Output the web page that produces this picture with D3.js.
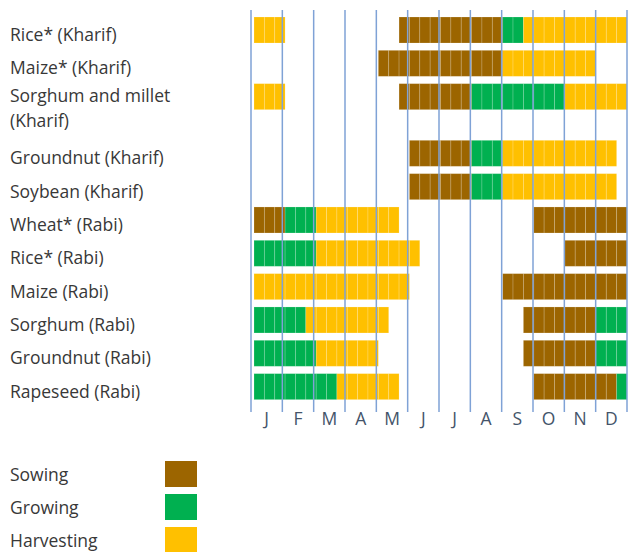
<!DOCTYPE html>
<html>
<head>
<meta charset="utf-8">
<script src="https://cdn.jsdelivr.net/npm/d3@7"></script>
<style>
  body { margin: 0; background: #fff; }
  text { font-family: "Open Sans", "Noto Sans", sans-serif; }
</style>
</head>
<body>
<div id="chart"></div>
<script>
// crop calendar, periods given in dekads (0..36, three per month)
var crops = ["Rice* (Kharif)", "Maize* (Kharif)", "Sorghum and millet|(Kharif)",
  "Groundnut (Kharif)", "Soybean (Kharif)", "Wheat* (Rabi)", "Rice* (Rabi)",
  "Maize (Rabi)", "Sorghum (Rabi)", "Groundnut (Rabi)", "Rapeseed (Rabi)"];

var months = ["J", "F", "M", "A", "M", "J", "J", "A", "S", "O", "N", "D"];

var sowing = [
  [[14, 24]], [[12, 24]], [[14, 21]], [[15, 21]], [[15, 21]],
  [[0, 3], [27, 36]], [[30, 36]], [[24, 36]], [[26, 33]], [[26, 33]], [[27, 35]]
];
var growing = [
  [[24, 26]], [], [[21, 30]], [[21, 24]], [[21, 24]],
  [[3, 6]], [[0, 6]], [], [[0, 5], [33, 36]], [[0, 6], [33, 36]], [[0, 8], [35, 36]]
];
var harvesting = [
  [[0, 3], [26, 36]], [[24, 33]], [[0, 3], [30, 36]], [[24, 35]], [[24, 35]],
  [[6, 14]], [[6, 16]], [[0, 15]], [[5, 13]], [[6, 12]], [[8, 14]]
];

var stages = ["Sowing", "Growing", "Harvesting"];
var stageColors = ["#9C6500", "#00B050", "#FFC000"];
var stageData = [sowing, growing, harvesting];

var width = 636, height = 552;

var svg = d3.select("#chart")
  .append("svg")
    .attr("width", width)
    .attr("height", height);

// scales
var x = d3.scaleLinear().domain([0, 36]).range([254, 627]);
var xMonth = d3.scaleLinear().domain([0, 12]).range([251, 627]);
// row slots; the two-line label row pushes the rest down a bit
var slot = function(i) { return i >= 3 ? i + 0.7 : i; };
var y = d3.scaleLinear().domain([0, 1]).range([17, 50.33]);
var barH = 26;

var color = d3.scaleOrdinal().domain(stages).range(stageColors);

// flatten into one cell per dekad
var cells = [];
crops.forEach(function(c, i) {
  stageData.forEach(function(arr, s) {
    arr[i].forEach(function(p) {
      for (var k = p[0]; k < p[1]; k++) {
        cells.push({row: i, dekad: k, stage: stages[s]});
      }
    });
  });
});

svg.append("g")
  .selectAll("rect")
  .data(cells)
  .enter()
  .append("rect")
    .attr("x", function(d) { return x(d.dekad); })
    .attr("y", function(d) { return y(slot(d.row)); })
    .attr("width", x(1) - x(0))
    .attr("height", barH)
    .style("fill", function(d) { return color(d.stage); })
    .style("stroke", "rgba(255,255,255,0.22)")
    .style("stroke-width", 0.8);

// month grid lines
svg.append("g")
  .selectAll("line")
  .data(d3.range(13))
  .enter()
  .append("line")
    .attr("x1", function(d) { return xMonth(d); })
    .attr("x2", function(d) { return xMonth(d); })
    .attr("y1", 10)
    .attr("y2", 412)
    .style("stroke", "#7fa2d6")
    .style("stroke-width", 1.5);

// month labels
svg.append("g")
  .selectAll("text")
  .data(months)
  .enter()
  .append("text")
    .attr("x", function(d, i) { return xMonth(i + 0.5); })
    .attr("y", 425)
    .attr("text-anchor", "middle")
    .style("font-size", "17.5px")
    .style("fill", "#44546A")
    .text(function(d) { return d; });

// crop labels
var labels = svg.append("g")
  .selectAll("text")
  .data(crops)
  .enter()
  .append("text")
    .attr("x", 10)
    .attr("y", function(d, i) {
      var mid = y(slot(i)) + barH / 2;
      return d.indexOf("|") >= 0 ? mid + 5 : mid + 11;
    })
    .style("font-size", "17.5px")
    .style("fill", "#383838");

labels.each(function(d) {
  var parts = d.split("|");
  var t = d3.select(this);
  parts.forEach(function(p, j) {
    t.append("tspan")
      .attr("x", 10)
      .attr("dy", j === 0 ? 0 : 25)
      .text(p);
  });
});

// legend
var legend = svg.append("g")
  .selectAll("g")
  .data(stages)
  .enter()
  .append("g")
    .attr("transform", function(d, i) { return "translate(0," + (461 + i * 33) + ")"; });

legend.append("rect")
  .attr("x", 165)
  .attr("width", 32)
  .attr("height", 26)
  .style("fill", function(d) { return color(d); });

legend.append("text")
  .attr("x", 10)
  .attr("y", 20)
  .style("font-size", "17.5px")
  .style("fill", "#383838")
  .text(function(d) { return d; });
</script>
</body>
</html>
